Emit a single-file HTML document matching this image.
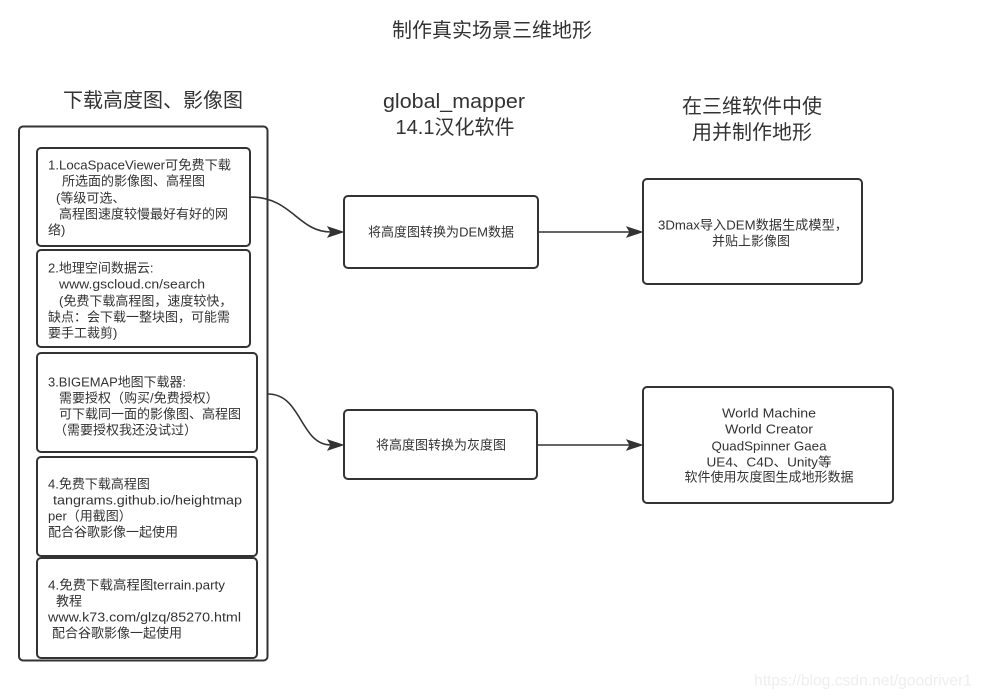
<!DOCTYPE html>
<html>
<head>
<meta charset="utf-8">
<style>
  html,body{margin:0;padding:0;background:#fff;}
  svg{display:block;}
  text{font-family:"Liberation Sans","Noto Sans CJK SC",sans-serif;fill:#333;}
  .t{font-size:20px;}
  .s{font-size:13px;}
</style>
</head>
<body>
<svg width="981" height="700" viewBox="0 0 981 700" xmlns="http://www.w3.org/2000/svg">
  <rect x="0" y="0" width="981" height="700" fill="#fff"/>

  <!-- Titles -->
  <text class="t" x="492" y="31" text-anchor="middle" dominant-baseline="central">制作真实场景三维地形</text>
  <text class="t" x="153" y="101" text-anchor="middle" dominant-baseline="central">下载高度图、影像图</text>
  <text class="t" x="454" y="102" text-anchor="middle" dominant-baseline="central" textLength="142" lengthAdjust="spacingAndGlyphs">global_mapper</text>
  <text class="t" x="455" y="128" text-anchor="middle" dominant-baseline="central">14.1汉化软件</text>
  <text class="t" x="752" y="107" text-anchor="middle" dominant-baseline="central">在三维软件中使</text>
  <text class="t" x="752" y="133" text-anchor="middle" dominant-baseline="central">用并制作地形</text>

  <g fill="none" stroke="#333" stroke-width="2">
    <!-- outer container -->
    <rect x="19" y="126.5" width="248.5" height="534" rx="4"/>
    <!-- left boxes -->
    <rect x="37" y="148" width="213" height="98" rx="4"/>
    <rect x="37" y="250" width="213" height="97" rx="4"/>
    <rect x="37" y="353" width="220" height="99" rx="4"/>
    <rect x="37" y="457" width="220" height="99" rx="4"/>
    <rect x="37" y="558" width="220" height="100" rx="4"/>
    <!-- middle boxes -->
    <rect x="344" y="196" width="194" height="72" rx="4"/>
    <rect x="344" y="410" width="193" height="69" rx="4"/>
    <!-- right boxes -->
    <rect x="643" y="179" width="219" height="105" rx="4"/>
    <rect x="643" y="387" width="250" height="116" rx="4"/>
  </g>

  <!-- connectors -->
  <g fill="none" stroke="#333" stroke-width="1.6">
    <path d="M250,197 C292,197 298,232 331,232"/>
    <path d="M268,394 C302,394 300,445 331,445"/>
    <path d="M538,232 L630,232"/>
    <path d="M537,445 L630,445"/>
  </g>
  <g fill="#333" stroke="#333" stroke-width="1">
    <path d="M343,232 L328,227 L331,232 L328,237 Z"/>
    <path d="M343,445 L328,440 L331,445 L328,450 Z"/>
    <path d="M642,232 L627,227 L630,232 L627,237 Z"/>
    <path d="M642,445 L627,440 L630,445 L627,450 Z"/>
  </g>

  <g class="s">
    <!-- Box 1 -->
    <text class="s" x="48" y="165" dominant-baseline="central" textLength="183" lengthAdjust="spacingAndGlyphs">1.LocaSpaceViewer可免费下载</text>
    <text class="s" x="62" y="181" dominant-baseline="central">所选面的影像图、高程图</text>
    <text class="s" x="56" y="198" dominant-baseline="central">(等级可选、</text>
    <text class="s" x="59" y="214" dominant-baseline="central">高程图速度较慢最好有好的网</text>
    <text class="s" x="48" y="230" dominant-baseline="central">络)</text>

    <!-- Box 2 -->
    <text class="s" x="48" y="268" dominant-baseline="central">2.地理空间数据云:</text>
    <text class="s" x="59" y="284" dominant-baseline="central" textLength="146" lengthAdjust="spacingAndGlyphs">www.gscloud.cn/search</text>
    <text class="s" x="59" y="301" dominant-baseline="central">(免费下载高程图，速度较快，</text>
    <text class="s" x="48" y="317" dominant-baseline="central">缺点：会下载一整块图，可能需</text>
    <text class="s" x="48" y="333" dominant-baseline="central">要手工裁剪)</text>

    <!-- Box 3 -->
    <text class="s" x="48" y="382" dominant-baseline="central" textLength="138" lengthAdjust="spacingAndGlyphs">3.BIGEMAP地图下载器:</text>
    <text class="s" x="59" y="398" dominant-baseline="central">需要授权（购买/免费授权）</text>
    <text class="s" x="59" y="414" dominant-baseline="central">可下载同一面的影像图、高程图</text>
    <text class="s" x="54" y="430" dominant-baseline="central">（需要授权我还没试过）</text>

    <!-- Box 4 -->
    <text class="s" x="48" y="484" dominant-baseline="central">4.免费下载高程图</text>
    <text class="s" x="53" y="500" dominant-baseline="central" textLength="189" lengthAdjust="spacingAndGlyphs">tangrams.github.io/heightmap</text>
    <text class="s" x="48" y="516" dominant-baseline="central">per（用截图）</text>
    <text class="s" x="48" y="532" dominant-baseline="central">配合谷歌影像一起使用</text>

    <!-- Box 5 -->
    <text class="s" x="48" y="585" dominant-baseline="central" textLength="177" lengthAdjust="spacingAndGlyphs">4.免费下载高程图terrain.party</text>
    <text class="s" x="56" y="601" dominant-baseline="central">教程</text>
    <text class="s" x="48" y="617" dominant-baseline="central" textLength="193" lengthAdjust="spacingAndGlyphs">www.k73.com/glzq/85270.html</text>
    <text class="s" x="52" y="633" dominant-baseline="central">配合谷歌影像一起使用</text>

    <!-- Middle -->
    <text class="s" x="441" y="232" text-anchor="middle" dominant-baseline="central" textLength="146" lengthAdjust="spacingAndGlyphs">将高度图转换为DEM数据</text>
    <text class="s" x="441" y="445" text-anchor="middle" dominant-baseline="central">将高度图转换为灰度图</text>

    <!-- Right 1 -->
    <text class="s" x="658" y="225" dominant-baseline="central" textLength="190" lengthAdjust="spacingAndGlyphs">3Dmax导入DEM数据生成模型，</text>
    <text class="s" x="751" y="241" text-anchor="middle" dominant-baseline="central">并贴上影像图</text>

    <!-- Right 2 -->
    <text class="s" x="769" y="413" text-anchor="middle" dominant-baseline="central" textLength="94" lengthAdjust="spacingAndGlyphs">World Machine</text>
    <text class="s" x="769" y="429" text-anchor="middle" dominant-baseline="central" textLength="88" lengthAdjust="spacingAndGlyphs">World Creator</text>
    <text class="s" x="769" y="446" text-anchor="middle" dominant-baseline="central" textLength="115" lengthAdjust="spacingAndGlyphs">QuadSpinner Gaea</text>
    <text class="s" x="769" y="462" text-anchor="middle" dominant-baseline="central" textLength="125" lengthAdjust="spacingAndGlyphs">UE4、C4D、Unity等</text>
    <text class="s" x="769" y="477" text-anchor="middle" dominant-baseline="central">软件使用灰度图生成地形数据</text>
  </g>

  <!-- watermark -->
  <text x="754" y="681" dominant-baseline="central" style="font-size:16px;fill:#eeeeee;" textLength="218" lengthAdjust="spacingAndGlyphs">https://blog.csdn.net/goodriver1</text>
</svg>
</body>
</html>
